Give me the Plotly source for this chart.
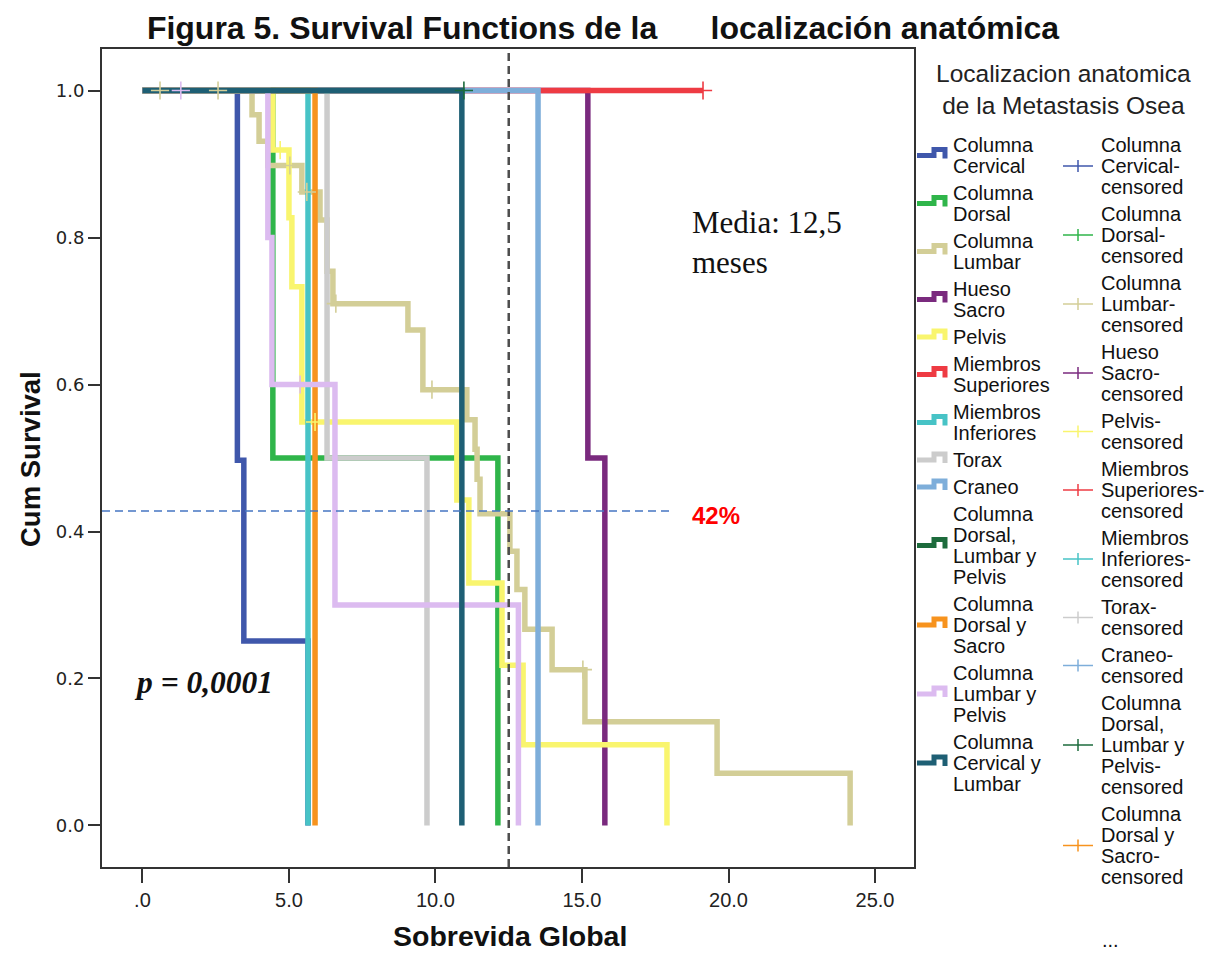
import plotly.graph_objects as go

# ---------------- data ----------------
GROUPS = ["Columna\nCervical", "Columna\nDorsal", "Columna\nLumbar", "Hueso\nSacro", "Pelvis",
          "Miembros\nSuperiores", "Miembros\nInferiores", "Torax", "Craneo",
          "Columna\nDorsal,\nLumbar y\nPelvis", "Columna\nDorsal y\nSacro",
          "Columna\nLumbar y\nPelvis", "Columna\nCervical y\nLumbar"]
COLORS = ["#3F57AB", "#2FB54A", "#D3CE97", "#7A2A7E", "#F9F56E",
          "#EE3B43", "#47C3C6", "#CCCCCC", "#7EAEDA",
          "#1D6B3C", "#F7931E", "#DCBBF0", "#1E5F74"]

# step times (months) and cumulative survival after each step
cervical_t = [0, 3.24, 3.46, 5.65]
cervical_s = [1.0, 0.497, 0.251, 0.0]
dorsal_t = [0, 4.45, 12.13]
dorsal_s = [1.0, 0.5, 0.0]
lumbar_t = [0, 3.74, 3.98, 4.28, 5.44, 6.06, 6.3, 6.5, 9.06, 9.57, 11.07, 11.35,
            11.42, 11.52, 12.54, 12.78, 13.05, 13.98, 15.10, 19.61, 24.15]
lumbar_s = [1.0, 0.967, 0.931, 0.898, 0.862, 0.824, 0.754, 0.71, 0.674, 0.593, 0.552, 0.512,
            0.471, 0.424, 0.373, 0.321, 0.267, 0.212, 0.141, 0.071, 0.0]
sacro_t = [0, 15.2, 15.78]
sacro_s = [1.0, 0.5, 0.0]
pelvis_t = [0, 4.45, 5.0, 5.1, 5.44, 10.73, 11.14, 12.27, 12.99, 17.9]
pelvis_s = [1.0, 0.919, 0.827, 0.733, 0.549, 0.443, 0.33, 0.218, 0.11, 0.0]
msup_t = [0, 19.13]
msup_s = [1.0, 1.0]
minf_t = [0, 5.65]
minf_s = [1.0, 0.0]
torax_t = [0, 6.3, 9.71]
torax_s = [1.0, 0.5, 0.0]
craneo_t = [0, 13.5]
craneo_s = [1.0, 0.0]
dlp_t = [0, 10.97]
dlp_s = [1.0, 1.0]
dsac_t = [0, 5.89]
dsac_s = [1.0, 0.0]
lp_t = [0, 4.28, 4.42, 6.57, 12.83]
lp_s = [1.0, 0.8, 0.6, 0.3, 0.0]
cl_t = [0, 10.9]
cl_s = [1.0, 0.0]

CURVES_T = [cervical_t, dorsal_t, lumbar_t, sacro_t, pelvis_t, msup_t, minf_t,
            torax_t, craneo_t, dlp_t, dsac_t, lp_t, cl_t]
CURVES_S = [cervical_s, dorsal_s, lumbar_s, sacro_s, pelvis_s, msup_s, minf_s,
            torax_s, craneo_s, dlp_s, dsac_s, lp_s, cl_s]

# censored observations (group index -> times, survival)
CENS_GROUP = [2, 11, 4, 9, 5]
CENS_T = [[0.6, 2.58, 5.03, 5.61, 6.6, 9.88, 15.03],
          [1.31, 5.38],
          [4.7, 5.89],
          [10.97],
          [19.13]]
CENS_S = [[1.0, 1.0, 0.898, 0.862, 0.71, 0.593, 0.212],
          [1.0, 0.6],
          [0.919, 0.549],
          [1.0],
          [1.0]]

X_TICKS = [0, 5, 10, 15, 20, 25]
X_TICKTEXT = [".0", "5.0", "10.0", "15.0", "20.0", "25.0"]
Y_TICKS = [0.0, 0.2, 0.4, 0.6, 0.8, 1.0]
MEAN_SURVIVAL = 12.5
REF_LEVEL = 0.428
REF_LINE_END = 18.0
X_RANGE = [-1.38, 26.33]
Y_RANGE = [-0.0565, 1.0565]

TITLE = "Figura 5. Survival Functions de la" + "\u00a0" * 6 + "localización anatómica"
LEGEND_TITLE = ["Localizacion anatomica", "de la Metastasis Osea"]
LEGEND_SHOWN_CENS = 11

# ---------------- figure ----------------
W, H = 1213, 956
L, R, T, B = 102, 914, 49, 867


def px(x):
    return (x - L) / (R - L)


def py(y):
    return (B - y) / (B - T)


fig = go.Figure()
for name, col, t, s in zip(GROUPS, COLORS, CURVES_T, CURVES_S):
    fig.add_trace(go.Scatter(x=t, y=s, mode="lines", line=dict(color=col, width=5.5, shape="hv"),
                             name=name.replace("\n", " "), showlegend=False, hoverinfo="skip"))
for g, t, s in zip(CENS_GROUP, CENS_T, CENS_S):
    fig.add_trace(go.Scatter(x=t, y=s, mode="markers",
                             marker=dict(symbol="cross-thin", size=13, line=dict(color=COLORS[g], width=1.6)),
                             name=GROUPS[g].replace("\n", " ") + "-censored", showlegend=False,
                             hoverinfo="skip"))

shapes = []
# reference lines
shapes.append(dict(type="line", xref="x", yref="paper", x0=MEAN_SURVIVAL, x1=MEAN_SURVIVAL, y0=0, y1=1,
                   line=dict(color="#4d4d4d", width=2.5, dash="8px,5px")))
shapes.append(dict(type="line", xref="x", yref="y", x0=X_RANGE[0], x1=REF_LINE_END, y0=REF_LEVEL, y1=REF_LEVEL,
                   line=dict(color="#4676C2", width=1.5, dash="8px,5px")))

annotations = []
annotations.append(dict(x=18.69, y=0.793, xref="x", yref="y", xanchor="left", yanchor="middle",
                        text="Media: 12,5<br>meses", showarrow=False, align="left",
                        font=dict(family="Liberation Serif", size=31, color="#111")))
annotations.append(dict(x=18.69, y=0.422, xref="x", yref="y", xanchor="left", yanchor="middle",
                        text="<b>42%</b>", showarrow=False,
                        font=dict(family="Liberation Sans", size=24, color="#FF0000")))
annotations.append(dict(x=-0.36, y=0.194, xref="x", yref="y", xanchor="left", yanchor="middle",
                        text="<b><i>p = 0,0001</i></b>", showarrow=False,
                        font=dict(family="Liberation Serif", size=31.5, color="#111")))
# axis titles
annotations.append(dict(x=px(31), y=py(459), xref="paper", yref="paper", xanchor="center", yanchor="middle",
                        text="<b>Cum Survival</b>", textangle=-90, showarrow=False,
                        font=dict(family="Liberation Sans", size=27.5, color="#111")))
annotations.append(dict(x=px(510), y=py(936), xref="paper", yref="paper", xanchor="center", yanchor="middle",
                        text="<b>Sobrevida Global</b>", showarrow=False,
                        font=dict(family="Liberation Sans", size=28.5, color="#111")))

# legend title
annotations.append(dict(x=px(1063), y=py(89.5), xref="paper", yref="paper", xanchor="center",
                        yanchor="middle", text="<br>".join(LEGEND_TITLE), showarrow=False,
                        font=dict(family="Liberation Sans", size=24.5, color="#222")))

LINE_H, GAP = 21, 27
LFONT = dict(family="Liberation Sans", size=20, color="#111")

# legend column 1: survival curves
ypos = 145
for name, col in zip(GROUPS, COLORS):
    lines = name.split("\n")
    for k, ln in enumerate(lines):
        annotations.append(dict(x=px(951), y=py(ypos + LINE_H * k), xref="paper", yref="paper",
                                xanchor="left", yanchor="middle", text=ln, showarrow=False, font=LFONT))
    m = ypos + LINE_H * (len(lines) - 1) / 2
    pts = [(917, m), (934, m), (934, m - 6), (945, m - 6), (945, m + 3)]
    path = "M " + " L ".join(f"{px(a):.5f},{py(b):.5f}" for a, b in pts)
    shapes.append(dict(type="path", xref="paper", yref="paper", path=path,
                       line=dict(color=col, width=5)))
    ypos += LINE_H * (len(lines) - 1) + GAP

# legend column 2: censored markers
ypos = 145
for name, col in list(zip(GROUPS, COLORS))[:LEGEND_SHOWN_CENS]:
    lines = (name + "-\ncensored").split("\n")
    for k, ln in enumerate(lines):
        annotations.append(dict(x=px(1099), y=py(ypos + LINE_H * k), xref="paper", yref="paper",
                                xanchor="left", yanchor="middle", text=ln, showarrow=False, font=LFONT))
    m = ypos + LINE_H * (len(lines) - 1) / 2
    shapes.append(dict(type="line", xref="paper", yref="paper", x0=px(1063), x1=px(1093), y0=py(m), y1=py(m),
                       line=dict(color=col, width=1.5)))
    shapes.append(dict(type="line", xref="paper", yref="paper", x0=px(1078), x1=px(1078), y0=py(m - 6),
                       y1=py(m + 6), line=dict(color=col, width=1.5)))
    ypos += LINE_H * (len(lines) - 1) + GAP
annotations.append(dict(x=px(1110), y=py(940), xref="paper", yref="paper", xanchor="center", yanchor="middle",
                        text="...", showarrow=False, font=LFONT))

fig.update_layout(
    width=W, height=H,
    margin=dict(l=L, r=W - R, t=T, b=H - B),
    paper_bgcolor="white", plot_bgcolor="white",
    title=dict(text="<b>" + TITLE + "</b>", x=603 / W, xref="container", xanchor="center",
               y=1 - 28 / H, yref="container", yanchor="middle",
               font=dict(family="Liberation Sans", size=32, color="#111")),
    xaxis=dict(range=X_RANGE, tickvals=X_TICKS, ticktext=X_TICKTEXT, ticks="outside", ticklen=14,
               tickwidth=2, tickcolor="#333", showgrid=False, zeroline=False, showline=True, mirror=True,
               linecolor="#333", linewidth=2,
               tickfont=dict(family="Liberation Sans", size=20, color="#222")),
    yaxis=dict(range=Y_RANGE, tickvals=Y_TICKS, tickformat=".1f", ticks="outside", ticklen=12,
               tickwidth=2, tickcolor="#333", showgrid=False, zeroline=False, showline=True, mirror=True,
               linecolor="#333", linewidth=2,
               tickfont=dict(family="DejaVu Sans", size=18, color="#222")),
    shapes=shapes, annotations=annotations, showlegend=False,
)

fig.write_html("out.html")
